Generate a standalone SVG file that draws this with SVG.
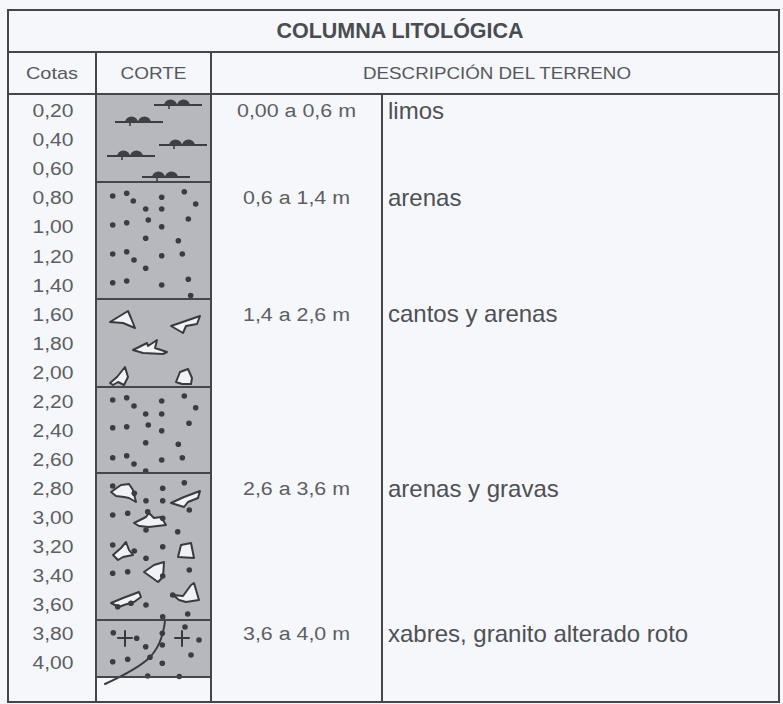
<svg xmlns="http://www.w3.org/2000/svg" width="783" height="704" viewBox="0 0 783 704">
  <style>
    .rule { stroke: #44464b; stroke-width: 2; fill: none; }
    .layer { fill: #b6b8bd; }
    .cota { font-family: "Liberation Sans", Arial, sans-serif; font-size: 18px; fill: #5c5e63; text-anchor: middle; }
    .range { font-family: "Liberation Sans", Arial, sans-serif; font-size: 18px; fill: #5c5e63; text-anchor: middle; }
    .desc { font-family: "Liberation Sans", Arial, sans-serif; font-size: 24px; fill: #4e5055; }
    .head { font-family: "Liberation Sans", Arial, sans-serif; font-size: 17px; fill: #55575c; text-anchor: middle; }
    .title { font-family: "Liberation Sans", Arial, sans-serif; font-size: 21.5px; font-weight: bold; fill: #4a4c51; text-anchor: middle; }
    .grain { fill: #3a3c41; }
    .pebble { fill: #f1f2f5; stroke: #383a3f; stroke-width: 2; stroke-linejoin: round; }
    .mark { stroke: #383a3f; stroke-width: 2; fill: none; stroke-linecap: round; }
  </style>
  <defs>
    <!-- silt symbol: base line with two small mounds -->
    <g id="silt">
      <line x1="-24" y1="0" x2="24" y2="0" stroke="#3a3d41" stroke-width="2"/>
      <path d="M-14,0.5 a6.5,6 0 0 1 13,0 Z M-1,0.5 a6.5,6 0 0 1 13,0 Z" fill="#3d4144"/>
      <line x1="-9" y1="0" x2="-9" y2="4" stroke="#3d4144" stroke-width="1.6"/>
    </g>
    <!-- granite cross -->
    <g id="cross">
      <line x1="-7" y1="0" x2="7" y2="0" class="mark"/>
      <line x1="0" y1="-7" x2="0" y2="8" class="mark"/>
    </g>
  </defs>

  <!-- page -->
  <rect x="0" y="0" width="783" height="704" fill="#f5f7fb"/>

  <!-- section column fill -->
  <g id="corte-layers">
    <rect class="layer" x="96" y="95" width="115" height="582"/>
  </g>

  <!-- layer 1: limos -->
  <g id="layer-limos">
    <use href="#silt" x="178" y="105"/>
    <use href="#silt" x="139" y="122"/>
    <use href="#silt" x="183" y="145"/>
    <use href="#silt" x="131" y="156"/>
    <use href="#silt" x="166" y="177"/>
  </g>

  <!-- layer 2: arenas -->
  <g id="layer-arenas-1" class="grain">
    <circle cx="112.7" cy="196" r="2.8"/><circle cx="126.7" cy="193.3" r="2.8"/>
    <circle cx="133.3" cy="201" r="2.8"/><circle cx="161.7" cy="197.3" r="2.8"/>
    <circle cx="184.3" cy="191.7" r="2.8"/><circle cx="195.7" cy="204" r="2.8"/>
    <circle cx="145.7" cy="209" r="2.8"/><circle cx="161.7" cy="209" r="2.8"/>
    <circle cx="112.7" cy="225" r="2.8"/><circle cx="126.7" cy="222.7" r="2.8"/>
    <circle cx="148.3" cy="220" r="2.8"/><circle cx="161.7" cy="226.7" r="2.8"/>
    <circle cx="188.3" cy="219" r="2.8"/><circle cx="145.7" cy="238.3" r="2.8"/>
    <circle cx="178.3" cy="240.7" r="2.8"/><circle cx="112.7" cy="254" r="2.8"/>
    <circle cx="126.7" cy="251.7" r="2.8"/><circle cx="134" cy="260" r="2.8"/>
    <circle cx="161.7" cy="255.7" r="2.8"/><circle cx="182.3" cy="254" r="2.8"/>
    <circle cx="145.7" cy="268.3" r="2.8"/><circle cx="112.7" cy="282.7" r="2.8"/>
    <circle cx="126.7" cy="281" r="2.8"/><circle cx="161.7" cy="285" r="2.8"/>
    <circle cx="188.3" cy="279.3" r="2.8"/><circle cx="190.7" cy="295.5" r="2.8"/>
  </g>

  <!-- layer 3: cantos y arenas -->
  <g id="layer-cantos">
    <path class="pebble" d="M110,322 L128,311 L131,318 L135,328 L123,323 Z"/>
    <path class="pebble" d="M171,326 L200,316 L197,324 L186,326 L183,333 Z"/>
    <path class="pebble" d="M133,350 L147,343 L148,346 L157,340 L155,348 L167,352 L163,354 L143,353 Z"/>
    <path class="pebble" d="M110,383 L117,377 L125,367 L128,377 L124,385 L118,382 L113,385 Z"/>
    <path class="pebble" d="M176,382 L180,372 L188,369 L192,378 L191,384 L182,384 Z"/>
  </g>

  <!-- layer 4: arenas -->
  <g id="layer-arenas-2" class="grain">
    <circle cx="112.7" cy="400" r="2.8"/><circle cx="126.7" cy="397.7" r="2.8"/>
    <circle cx="134" cy="406" r="2.8"/><circle cx="161.7" cy="401" r="2.8"/>
    <circle cx="184.3" cy="396" r="2.8"/><circle cx="195.7" cy="407.7" r="2.8"/>
    <circle cx="145.7" cy="414" r="2.8"/><circle cx="161.7" cy="414" r="2.8"/>
    <circle cx="112.7" cy="427.7" r="2.8"/><circle cx="126.7" cy="426.7" r="2.8"/>
    <circle cx="148.3" cy="425" r="2.8"/><circle cx="161.7" cy="430.7" r="2.8"/>
    <circle cx="189" cy="423.3" r="2.8"/><circle cx="145.7" cy="442.7" r="2.8"/>
    <circle cx="178.3" cy="444.3" r="2.8"/><circle cx="112.7" cy="457.7" r="2.8"/>
    <circle cx="126.7" cy="455.7" r="2.8"/><circle cx="134" cy="464" r="2.8"/>
    <circle cx="161.7" cy="460" r="2.8"/><circle cx="182.3" cy="457.7" r="2.8"/>
    <circle cx="145.7" cy="471" r="2.8"/>
  </g>

  <!-- layer 5: arenas y gravas -->
  <g id="layer-gravas">
    <path class="pebble" d="M111,492 L121,485 L129,484 L133,490 L136,502 L129,498 L124,497 L116,496 Z"/>
    <path class="pebble" d="M171,503 L184,497 L200,491 L198,498 L188,502 L184,507 Z"/>
    <path class="pebble" d="M134,523 L146,517 L149,513 L154,518 L161,517 L166,525 L149,527 L139,526 Z"/>
    <path class="pebble" d="M113,555 L121,548 L126,542 L129,550 L133,555 L123,557 L118,560 Z"/>
    <path class="pebble" d="M178,557 L181,545 L191,543 L194,558 Z"/>
    <path class="pebble" d="M144,572 L154,565 L164,562 L163,577 L158,582 L151,577 Z"/>
    <path class="pebble" d="M111,603 L123,598 L139,592 L141,597 L134,602 L124,605 L119,607 Z"/>
    <path class="pebble" d="M173,595 L183,596 L191,585 L194,583 L199,600 L186,602 L179,600 Z"/>
    <g class="grain">
      <circle cx="112.7" cy="486" r="2.8"/><circle cx="162.7" cy="488.3" r="2.8"/>
      <circle cx="184.3" cy="482.7" r="2.8"/><circle cx="134.3" cy="493.3" r="2.8"/>
      <circle cx="146" cy="500.7" r="2.8"/><circle cx="162.7" cy="500.7" r="2.8"/>
      <circle cx="189.3" cy="510" r="2.8"/><circle cx="112.7" cy="515" r="2.8"/>
      <circle cx="127.7" cy="513.3" r="2.8"/><circle cx="147.7" cy="511.7" r="2.8"/>
      <circle cx="162.7" cy="518.3" r="2.8"/><circle cx="146" cy="530" r="2.8"/>
      <circle cx="177.7" cy="531.7" r="2.8"/><circle cx="112.7" cy="545" r="2.8"/>
      <circle cx="134.3" cy="551" r="2.8"/><circle cx="162.7" cy="546.7" r="2.8"/>
      <circle cx="146" cy="558.3" r="2.8"/><circle cx="112.7" cy="573.3" r="2.8"/>
      <circle cx="127.7" cy="571.7" r="2.8"/><circle cx="162.7" cy="576" r="2.8"/>
      <circle cx="189.3" cy="570" r="2.8"/><circle cx="172.7" cy="595" r="2.8"/>
      <circle cx="146" cy="605" r="2.8"/><circle cx="117.7" cy="606.7" r="2.8"/>
      <circle cx="131" cy="603.3" r="2.8"/><circle cx="162.7" cy="616.7" r="2.8"/>
      <circle cx="187.7" cy="614" r="2.8"/>
    </g>
  </g>

  <!-- layer 6: xabres -->
  <g id="layer-xabres">
    <use href="#cross" x="125" y="638"/>
    <use href="#cross" x="182" y="638"/>
    <g class="grain">
      <circle cx="113.3" cy="632.7" r="2.8"/><circle cx="136.7" cy="638.3" r="2.8"/>
      <circle cx="162.3" cy="633.3" r="2.8"/><circle cx="199" cy="640" r="2.8"/>
      <circle cx="185" cy="627" r="2.8"/><circle cx="145.7" cy="646.7" r="2.8"/>
      <circle cx="162.3" cy="645" r="2.8"/><circle cx="191" cy="655" r="2.8"/>
      <circle cx="112.7" cy="661.7" r="2.8"/><circle cx="127.7" cy="659.3" r="2.8"/>
      <circle cx="150" cy="657.3" r="2.8"/><circle cx="162.3" cy="663.3" r="2.8"/>
      <circle cx="147.7" cy="676" r="2.8"/><circle cx="179.3" cy="676.5" r="2.8"/>
    </g>
    <path class="mark" d="M165,621 C163,638 158,650 148,659 C138,668 118,678 105,684"/>
  </g>

  <!-- table rules -->
  <g id="rules" class="rule">
    <rect x="8" y="10" width="771" height="692"/>
    <line x1="8" y1="52" x2="779" y2="52"/>
    <line x1="8" y1="94" x2="779" y2="94"/>
    <line x1="96" y1="52" x2="96" y2="702"/>
    <line x1="211" y1="52" x2="211" y2="702"/>
    <line x1="382" y1="94" x2="382" y2="702"/>
    <line x1="96" y1="182" x2="211" y2="182"/>
    <line x1="96" y1="299" x2="211" y2="299"/>
    <line x1="96" y1="387" x2="211" y2="387"/>
    <line x1="96" y1="473" x2="211" y2="473"/>
    <line x1="96" y1="620" x2="211" y2="620"/>
    <line x1="96" y1="677" x2="211" y2="677"/>
  </g>

  <!-- headings -->
  <g id="title">
    <text class="title" x="400" y="38">COLUMNA LITOLÓGICA</text>
  </g>
  <g id="headers">
    <text class="head" x="52" y="79" textLength="52" lengthAdjust="spacingAndGlyphs">Cotas</text>
    <text class="head" x="153.5" y="79" textLength="66" lengthAdjust="spacingAndGlyphs">CORTE</text>
    <text class="head" x="497" y="79" textLength="268" lengthAdjust="spacingAndGlyphs">DESCRIPCIÓN DEL TERRENO</text>
  </g>

  <!-- elevation column -->
  <g id="cotas">
    <text class="cota" x="53" y="117.2" textLength="41" lengthAdjust="spacingAndGlyphs">0,20</text>
    <text class="cota" x="53" y="146.3" textLength="41" lengthAdjust="spacingAndGlyphs">0,40</text>
    <text class="cota" x="53" y="175.3" textLength="41" lengthAdjust="spacingAndGlyphs">0,60</text>
    <text class="cota" x="53" y="204.4" textLength="41" lengthAdjust="spacingAndGlyphs">0,80</text>
    <text class="cota" x="53" y="233.4" textLength="41" lengthAdjust="spacingAndGlyphs">1,00</text>
    <text class="cota" x="53" y="262.5" textLength="41" lengthAdjust="spacingAndGlyphs">1,20</text>
    <text class="cota" x="53" y="291.5" textLength="41" lengthAdjust="spacingAndGlyphs">1,40</text>
    <text class="cota" x="53" y="320.6" textLength="41" lengthAdjust="spacingAndGlyphs">1,60</text>
    <text class="cota" x="53" y="349.6" textLength="41" lengthAdjust="spacingAndGlyphs">1,80</text>
    <text class="cota" x="53" y="378.7" textLength="41" lengthAdjust="spacingAndGlyphs">2,00</text>
    <text class="cota" x="53" y="407.7" textLength="41" lengthAdjust="spacingAndGlyphs">2,20</text>
    <text class="cota" x="53" y="436.8" textLength="41" lengthAdjust="spacingAndGlyphs">2,40</text>
    <text class="cota" x="53" y="465.8" textLength="41" lengthAdjust="spacingAndGlyphs">2,60</text>
    <text class="cota" x="53" y="494.9" textLength="41" lengthAdjust="spacingAndGlyphs">2,80</text>
    <text class="cota" x="53" y="523.9" textLength="41" lengthAdjust="spacingAndGlyphs">3,00</text>
    <text class="cota" x="53" y="553" textLength="41" lengthAdjust="spacingAndGlyphs">3,20</text>
    <text class="cota" x="53" y="582" textLength="41" lengthAdjust="spacingAndGlyphs">3,40</text>
    <text class="cota" x="53" y="611.1" textLength="41" lengthAdjust="spacingAndGlyphs">3,60</text>
    <text class="cota" x="53" y="640.1" textLength="41" lengthAdjust="spacingAndGlyphs">3,80</text>
    <text class="cota" x="53" y="669.2" textLength="41" lengthAdjust="spacingAndGlyphs">4,00</text>
  </g>

  <!-- depth ranges and descriptions -->
  <g id="row-limos">
    <text class="range" x="296.5" y="117.2" textLength="119" lengthAdjust="spacingAndGlyphs">0,00 a 0,6 m</text>
    <text class="desc" x="388" y="118.5">limos</text>
  </g>
  <g id="row-arenas">
    <text class="range" x="296.5" y="204.4" textLength="107" lengthAdjust="spacingAndGlyphs">0,6 a 1,4 m</text>
    <text class="desc" x="388" y="206">arenas</text>
  </g>
  <g id="row-cantos">
    <text class="range" x="296.5" y="320.6" textLength="107" lengthAdjust="spacingAndGlyphs">1,4 a 2,6 m</text>
    <text class="desc" x="388" y="322">cantos y arenas</text>
  </g>
  <g id="row-gravas">
    <text class="range" x="296.5" y="494.9" textLength="107" lengthAdjust="spacingAndGlyphs">2,6 a 3,6 m</text>
    <text class="desc" x="388" y="496.5">arenas y gravas</text>
  </g>
  <g id="row-xabres">
    <text class="range" x="296.5" y="640.1" textLength="107" lengthAdjust="spacingAndGlyphs">3,6 a 4,0 m</text>
    <text class="desc" x="388" y="641.5">xabres, granito alterado roto</text>
  </g>
</svg>
